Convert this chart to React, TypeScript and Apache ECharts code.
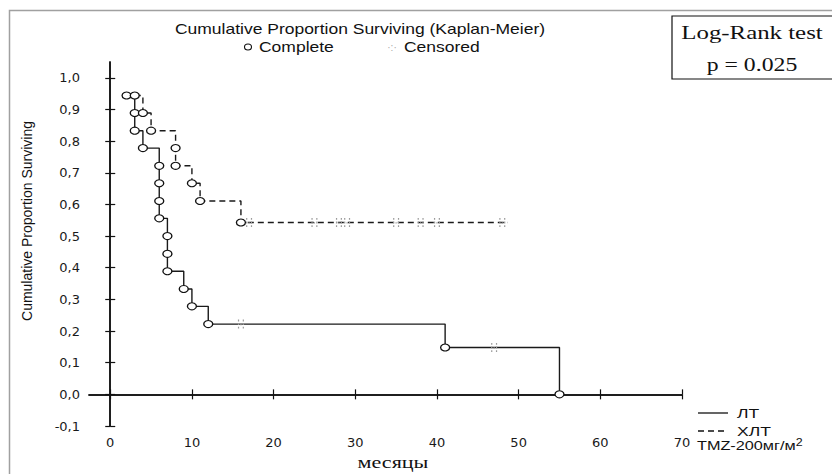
import React, { useEffect, useRef } from "react";
import * as echarts from "echarts";

// ЛТ group (solid line): event times and survival after each event
const ltTimes = [2, 3, 3, 4, 6, 6, 6, 6, 7, 7, 7, 9, 10, 12, 41, 55];
const ltSurv = [0.944, 0.889, 0.833, 0.778, 0.722, 0.667, 0.611, 0.556, 0.5, 0.444, 0.389, 0.333, 0.278, 0.222, 0.148, 0];
const ltCensTimes = [16, 47];
const ltCensSurv = [0.222, 0.148];

// ХЛТ TMZ group (dashed line)
const xltTimes = [3, 4, 5, 8, 8, 10, 11, 16];
const xltSurv = [0.944, 0.889, 0.833, 0.778, 0.722, 0.667, 0.611, 0.543];
const xltEndTime = 48.7;
const xltCensTimes = [17, 25, 28, 29, 35, 38, 40, 48];
const xltCensSurv = [0.543, 0.543, 0.543, 0.543, 0.543, 0.543, 0.543, 0.543];

// Axis ticks
const xTicks = [0, 10, 20, 30, 40, 50, 60, 70];
const yTicks = [-0.1, 0, 0.1, 0.2, 0.3, 0.4, 0.5, 0.6, 0.7, 0.8, 0.9, 1.0];

const CENS_SYMBOL =
  "path://M0,0h1v1.5h-1z M4,0h1v1.5h-1z M0,3h1v1.5h-1z M2,3.5h1v1.2h-1z M4,3h1v1.5h-1z M0,6h1v1.5h-1z M4,6h1v1.5h-1z";

export default function App() {
  const ref = useRef<HTMLDivElement>(null);

  useEffect(() => {
    if (!ref.current) return;
    const chart = echarts.init(ref.current, null, { renderer: "svg" });

    const ltLine = ltTimes.map((t, i) => [t, ltSurv[i]]);
    const xltLine = xltTimes.map((t, i) => [t, xltSurv[i]]);
    xltLine.push([xltEndTime, xltSurv[xltSurv.length - 1]]);
    const complete = [
      ...ltTimes.map((t, i) => [t, ltSurv[i]]),
      ...xltTimes.map((t, i) => [t, xltSurv[i]]),
    ];
    const censored = [
      ...ltCensTimes.map((t, i) => [t, ltCensSurv[i]]),
      ...xltCensTimes.map((t, i) => [t, xltCensSurv[i]]),
    ];

    const axisLine = { show: true, lineStyle: { color: "#111", width: 1.5 } };
    const tick = { show: true, inside: true, length: 5, lineStyle: { color: "#111", width: 1.2 } };
    const labelFont = { fontFamily: "DejaVu Sans", fontSize: 13, color: "#1a1a1a" };
    const fmt = (v: number) => (Math.round(v * 10) / 10).toFixed(1).replace(".", ",");

    const sans = "Liberation Sans, Arial, sans-serif";
    const serif = "Liberation Serif, Times New Roman, serif";

    chart.setOption({
      animation: false,
      backgroundColor: "#fff",
      grid: { left: 89, right: 150, top: 62, bottom: 48 },
      xAxis: [
        {
          type: "value",
          position: "bottom",
          min: -2.6,
          max: 70,
          axisLine,
          axisTick: { ...tick, customValues: xTicks },
          axisLabel: { ...labelFont, margin: 10, customValues: xTicks },
          splitLine: { show: false },
        },
        {
          type: "value",
          position: "top",
          min: -2.6,
          max: 70,
          axisLine,
          axisTick: { ...tick, customValues: xTicks },
          axisLabel: { show: false },
          splitLine: { show: false },
        },
      ],
      yAxis: [
        {
          type: "value",
          position: "left",
          min: -0.1,
          max: 1.05,
          axisLine,
          axisTick: { ...tick, customValues: yTicks },
          axisLabel: { ...labelFont, margin: 9, customValues: yTicks, formatter: fmt },
          splitLine: { show: false },
        },
        {
          type: "value",
          position: "right",
          min: -0.1,
          max: 1.05,
          axisLine,
          axisTick: { ...tick, customValues: yTicks },
          axisLabel: { show: false },
          splitLine: { show: false },
        },
      ],
      series: [
        {
          name: "ЛТ",
          type: "line",
          step: "end",
          data: ltLine,
          showSymbol: false,
          symbol: "none",
          lineStyle: { color: "#1a1a1a", width: 1.4 },
          z: 2,
        },
        {
          name: "ХЛТ TMZ-200мг/м2",
          type: "line",
          step: "end",
          data: xltLine,
          showSymbol: false,
          symbol: "none",
          lineStyle: { color: "#1a1a1a", width: 1.4, type: [6, 4] },
          z: 2,
        },
        {
          name: "Complete",
          type: "scatter",
          data: complete,
          symbol: "circle",
          symbolSize: [9, 7],
          itemStyle: { color: "#fff", borderColor: "#111", borderWidth: 1.2, opacity: 1 },
          z: 3,
        },
        {
          name: "Censored",
          type: "scatter",
          data: censored,
          symbol: CENS_SYMBOL,
          symbolSize: [6, 9],
          itemStyle: { color: "#9a9a9a", opacity: 1 },
          z: 3,
        },
      ],
      graphic: [
        {
          type: "rect",
          shape: { x: 9.5, y: 10.5, width: 840, height: 480 },
          style: { fill: "none", stroke: "#a0a0a0", lineWidth: 1.5 },
          silent: true,
          z: 0,
        },
        {
          type: "text",
          x: 360,
          y: 29,
          scaleX: 1.25,
          style: {
            text: "Cumulative Proportion Surviving (Kaplan-Meier)",
            x: 0,
            y: 0,
            font: `14px ${sans}`,
            fill: "#111",
            textAlign: "center",
            textVerticalAlign: "middle",
          },
        },
        {
          type: "ellipse",
          shape: { cx: 248, cy: 47, rx: 3.5, ry: 3 },
          style: { fill: "#fff", stroke: "#111", lineWidth: 1.1 },
        },
        {
          type: "text",
          x: 259,
          y: 47,
          scaleX: 1.25,
          style: {
            text: "Complete",
            x: 0,
            y: 0,
            font: `14px ${sans}`,
            fill: "#111",
            textAlign: "left",
            textVerticalAlign: "middle",
          },
        },
        {
          type: "text",
          x: 392,
          y: 47,
          style: {
            text: "·:·",
            x: 0,
            y: 0,
            font: `10px ${sans}`,
            fill: "#aaa",
            textAlign: "center",
            textVerticalAlign: "middle",
          },
        },
        {
          type: "text",
          x: 404,
          y: 47,
          scaleX: 1.25,
          style: {
            text: "Censored",
            x: 0,
            y: 0,
            font: `14px ${sans}`,
            fill: "#111",
            textAlign: "left",
            textVerticalAlign: "middle",
          },
        },
        {
          type: "rect",
          shape: { x: 672, y: 16, width: 180, height: 63 },
          style: { fill: "#fff", stroke: "#111", lineWidth: 1.2 },
          z: 10,
        },
        {
          type: "text",
          x: 752,
          y: 33,
          scaleX: 1.38,
          z: 11,
          style: {
            text: "Log-Rank test",
            x: 0,
            y: 0,
            font: `18px ${serif}`,
            fill: "#111",
            textAlign: "center",
            textVerticalAlign: "middle",
          },
        },
        {
          type: "text",
          x: 752,
          y: 65,
          scaleX: 1.32,
          z: 11,
          style: {
            text: "p = 0.025",
            x: 0,
            y: 0,
            font: `18px ${serif}`,
            fill: "#111",
            textAlign: "center",
            textVerticalAlign: "middle",
          },
        },
        {
          type: "text",
          x: 27,
          y: 221,
          rotation: Math.PI / 2,
          style: {
            text: "Cumulative Proportion Surviving",
            x: 0,
            y: 0,
            font: `14px ${sans}`,
            fill: "#111",
            textAlign: "center",
            textVerticalAlign: "middle",
          },
        },
        {
          type: "text",
          x: 393,
          y: 463,
          scaleX: 1.38,
          style: {
            text: "месяцы",
            x: 0,
            y: 0,
            font: `16px ${serif}`,
            fill: "#111",
            textAlign: "center",
            textVerticalAlign: "middle",
          },
        },
        {
          type: "line",
          shape: { x1: 698, y1: 413, x2: 728, y2: 413 },
          style: { stroke: "#111", lineWidth: 1.3 },
        },
        {
          type: "text",
          x: 737,
          y: 413,
          scaleX: 1.35,
          style: {
            text: "ЛТ",
            x: 0,
            y: 0,
            font: `13px ${sans}`,
            fill: "#111",
            textAlign: "left",
            textVerticalAlign: "middle",
          },
        },
        {
          type: "line",
          shape: { x1: 698, y1: 431, x2: 728, y2: 431 },
          style: { stroke: "#111", lineWidth: 1.3, lineDash: [6, 4] },
        },
        {
          type: "text",
          x: 737,
          y: 431,
          scaleX: 1.35,
          style: {
            text: "ХЛТ",
            x: 0,
            y: 0,
            font: `13px ${sans}`,
            fill: "#111",
            textAlign: "left",
            textVerticalAlign: "middle",
          },
        },
        {
          type: "text",
          x: 697,
          y: 446,
          scaleX: 1.25,
          style: {
            text: "{a|TMZ-200мг/м}{b|2}",
            x: 0,
            y: 0,
            fill: "#111",
            textAlign: "left",
            textVerticalAlign: "middle",
            rich: {
              a: { font: `13px ${sans}`, fill: "#111" },
              b: { font: `10px ${sans}`, fill: "#111", padding: [0, 0, 8, 0] },
            },
          },
        },
      ],
    });

    return () => chart.dispose();
  }, []);

  return (
    <div
      ref={ref}
      style={{ position: "fixed", left: 0, top: 0, width: 832, height: 474, background: "#fff" }}
    />
  );
}
